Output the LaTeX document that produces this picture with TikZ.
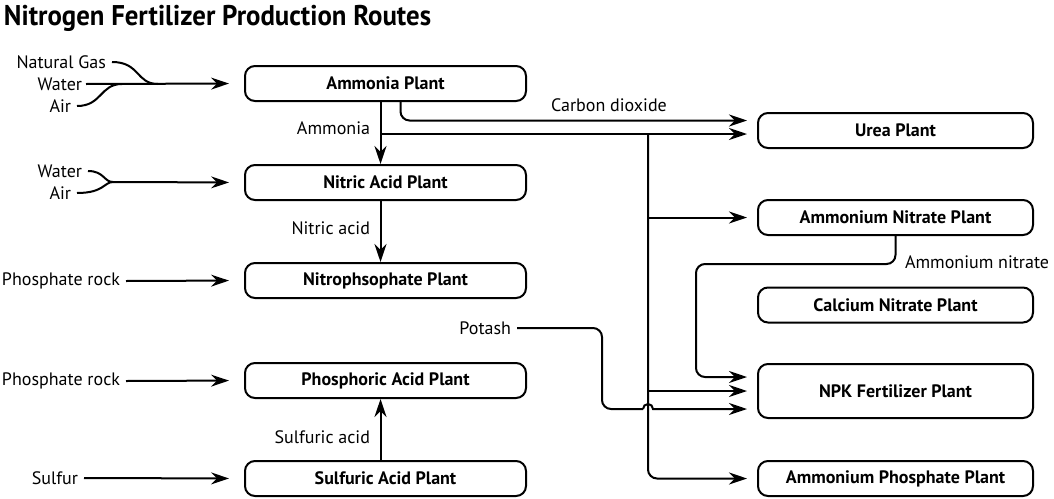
\documentclass[tikz,border=0pt]{standalone}
\usepackage{fontspec}
\setmainfont{PT Sans}
\newfontfamily\titlefont[FakeStretch=0.94]{PT Sans}
\usetikzlibrary{arrows.meta}

\begin{document}
\begin{tikzpicture}[x=1pt, y=-1pt, line width=2pt,
    plant/.style={draw, rounded corners=10pt, minimum width=281pt, minimum height=35pt,
      font=\fontsize{18}{21}\selectfont\bfseries},
    feed/.style={font=\fontsize{18}{21}\selectfont, inner sep=1pt},
    flow/.style={-{Stealth[length=18pt, width=12pt, inset=6pt]}, shorten >=10pt},
    pipe/.style={rounded corners=9pt}]
  \useasboundingbox (0,0) rectangle (1054,498);
  \node[anchor=north west, inner sep=0, font=\titlefont\bfseries\fontsize{28.5}{32}\selectfont] (title) at (3,4) {Nitrogen Fertilizer Production Routes};

  % plants
  \node[plant] (ammonia) at (385.5,83.5) {Ammonia Plant};
  \node[plant] (nitric) at (385.5,182.5) {Nitric Acid Plant};
  \node[plant] (nitrophos) at (385.5,280.5) {Nitrophsophate Plant};
  \node[plant] (phosacid) at (385.5,380.5) {Phosphoric Acid Plant};
  \node[plant] (sulfacid) at (385.5,478.5) {Sulfuric Acid Plant};
  \node[plant, minimum width=275pt] (urea) at (895.5,130.5) {Urea Plant};
  \node[plant, minimum width=275pt] (anitrate) at (895.5,217.5) {Ammonium Nitrate Plant};
  \node[plant, minimum width=275pt] (cnitrate) at (895.5,305) {Calcium Nitrate Plant};
  \node[plant, minimum width=275pt, minimum height=54pt] (npk) at (895.5,391) {NPK Fertilizer Plant};
  \node[plant, minimum width=275pt] (aphos) at (895.5,478.5) {Ammonium Phosphate Plant};

  % feeds
  \node[feed, anchor=east] (gas) at (108,62) {Natural Gas};
  \node[feed, anchor=east] (water1) at (84,84) {Water};
  \node[feed, anchor=east] (air1) at (73,106) {Air};
  \node[feed, anchor=east] (water2) at (84,171) {Water};
  \node[feed, anchor=east] (air2) at (73,193) {Air};
  \node[feed, anchor=east] (rock1) at (122,281) {Phosphate rock};
  \node[feed, anchor=east] (rock2) at (122,381) {Phosphate rock};
  \node[feed, anchor=east] (sulfur) at (80,478) {Sulfur};
  \node[feed, anchor=east] (potash) at (513,328) {Potash};

  % streams
  \node[feed, anchor=east] (lammonia) at (372,128) {Ammonia};
  \node[feed, anchor=east] (lnitric) at (372,228) {Nitric acid};
  \node[feed, anchor=east] (lsulfuric) at (372,437) {Sulfuric acid};
  \node[feed] (lcarbon) at (609,105) {Carbon dioxide};
  \node[feed, anchor=west] (lanitrate) at (903,262) {Ammonium nitrate};

  \coordinate (m1) at (158,84);
  \coordinate (m2) at (113,182);
  \coordinate (tap) at (380.5,134);
  \coordinate (trunk) at (648,134);

  \draw ([xshift=4pt]gas.east) .. controls (140,62) and (136,84) .. (m1);
  \draw ([xshift=4pt]air1.east) .. controls (102,106) and (100,84) .. (122,84);
  \draw[flow, shorten >=15pt] ([xshift=2pt]water1.east) -- (ammonia.west);
  \draw ([xshift=4pt]water2.east) .. controls (104,171) and (104,182) .. (m2);
  \draw ([xshift=4pt]air2.east) .. controls (104,193) and (104,182) .. (m2);
  \draw[flow, shorten >=15pt] (m2) -- (nitric.west);
  \draw[flow, shorten >=15pt] ([xshift=4pt]rock1.east) -- (nitrophos.west);
  \draw[flow, shorten >=15pt] ([xshift=4pt]rock2.east) -- (phosacid.west);
  \draw[flow, shorten >=15pt] ([xshift=4pt]sulfur.east) -- (sulfacid.west);

  \draw[flow, shorten >=0pt] ([xshift=-5pt]ammonia.south) -- ([xshift=-5pt]nitric.north);
  \draw[flow, shorten >=0pt] ([xshift=-5pt]nitric.south) -- ([xshift=-5pt]nitrophos.north);
  \draw[flow, shorten >=0pt] ([xshift=-5pt]sulfacid.north) -- ([xshift=-5pt]phosacid.south);

  \draw[flow, pipe] ([xshift=15pt]ammonia.south) |- ([yshift=10pt]urea.west);
  \draw[flow] (tap) -- (urea.west |- tap);
  \draw[flow, pipe] (trunk) |- (aphos.west);
  \draw[flow] (trunk |- anitrate.west) -- (anitrate.west);
  \draw[flow] (trunk |- npk.west) -- (npk.west);
  \draw[flow, pipe] (anitrate.south) |- (696,264) |- ([yshift=14pt]npk.west);
  \draw[pipe] ([xshift=4pt]potash.east) -| (602,409) -- (643,409);
  \draw[flow] (643,409) arc[start angle=180, end angle=0, radius=5pt] -- ([yshift=-18pt]npk.west);
\end{tikzpicture}
\end{document}
